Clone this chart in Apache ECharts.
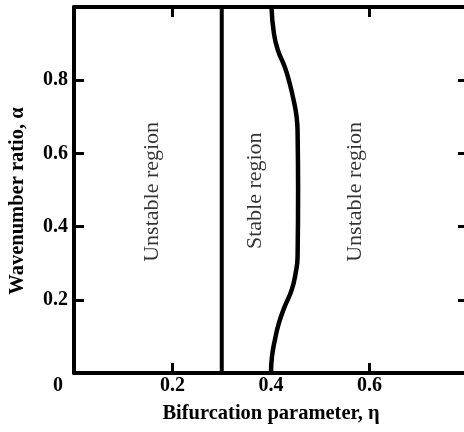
<!DOCTYPE html>
<html>
<head>
<meta charset="utf-8">
<script src="https://cdn.jsdelivr.net/npm/echarts@6/dist/echarts.min.js"></script>
<style>html,body{margin:0;padding:0;background:#fff}#c{width:464px;height:432px}</style>
</head>
<body>
<div id="c"></div>
<script>
// Data
const xTicks = [0, 0.2, 0.4, 0.6, 0.8];
const yTicks = [0, 0.2, 0.4, 0.6, 0.8, 1.0];
const verticalBoundaryEta = 0.3;
const verticalBoundaryAlpha = [0, 1];
const boundaryAlpha = [0.0, 0.045, 0.091, 0.136, 0.182, 0.227, 0.273, 0.318, 0.5, 0.655, 0.70, 0.745, 0.791, 0.836, 0.882, 0.927, 1.0];
const boundaryEta   = [0.400, 0.402, 0.408, 0.416, 0.428, 0.442, 0.450, 0.454, 0.455, 0.454, 0.452, 0.446, 0.438, 0.428, 0.414, 0.406, 0.401];
const regionNames = ['Unstable region', 'Stable region', 'Unstable region'];
const regionEta = [0.158, 0.367, 0.572];
const regionAlpha = [0.495, 0.498, 0.495];
const xTitle = 'Bifurcation parameter, η';
const yTitle = 'Wavenumber ratio, α';

const FONT = '"Liberation Serif", "DejaVu Serif", serif';
const chart = echarts.init(document.getElementById('c'), null, {renderer: 'canvas'});

const axisCommon = {
  type: 'value',
  interval: 0.2,
  splitLine: {show: false},
  axisLine: {show: true, onZero: false, lineStyle: {color: '#000', width: 4}},
  axisTick: {show: true, inside: true, length: 10, lineStyle: {color: '#000', width: 3}}
};

const option = {
  animation: false,
  backgroundColor: '#fff',
  grid: {left: 74, top: 7, width: 394, height: 366, containLabel: false, outerBoundsMode: 'none'},
  xAxis: [
    Object.assign({}, axisCommon, {
      position: 'bottom', min: xTicks[0], max: xTicks[xTicks.length - 1],
      name: xTitle, nameLocation: 'middle', nameGap: 30,
      nameTextStyle: {fontFamily: FONT, fontSize: 20.5, fontWeight: 'bold', color: '#000'},
      axisLabel: {
        show: true, margin: 3, color: '#000', fontFamily: FONT, fontSize: 20, fontWeight: 'bold',
        formatter: function (v) { if (v === 0) return '{o|0}'; if (Math.abs(v - 0.8) < 1e-9) return ''; return v.toFixed(1); },
        rich: {o: {fontFamily: FONT, fontSize: 20, fontWeight: 'bold', color: '#000', padding: [0, 32, 0, 0]}}
      }
    }),
    Object.assign({}, axisCommon, {
      position: 'top', min: xTicks[0], max: xTicks[xTicks.length - 1],
      axisLabel: {show: false}
    })
  ],
  yAxis: [
    Object.assign({}, axisCommon, {
      position: 'left', min: yTicks[0], max: yTicks[yTicks.length - 1],
      name: yTitle, nameLocation: 'middle', nameGap: 46, nameRotate: 90,
      nameTextStyle: {fontFamily: FONT, fontSize: 20.5, fontWeight: 'bold', color: '#000', padding: [0, 22, 0, 0]},
      axisLabel: {
        show: true, margin: 6, color: '#000', fontFamily: FONT, fontSize: 20, fontWeight: 'bold',
        formatter: function (v) { if (v === 0 || v >= 0.999) return ''; return v.toFixed(1); }
      }
    }),
    Object.assign({}, axisCommon, {
      position: 'right', min: yTicks[0], max: yTicks[yTicks.length - 1],
      axisLabel: {show: false}
    })
  ],
  series: [
    {
      type: 'line', xAxisIndex: 0, yAxisIndex: 0, symbol: 'none',
      lineStyle: {color: '#000', width: 4},
      data: verticalBoundaryAlpha.map(a => [verticalBoundaryEta, a])
    },
    {
      type: 'line', xAxisIndex: 0, yAxisIndex: 0, symbol: 'none', smooth: 0.5,
      lineStyle: {color: '#000', width: 4.5, join: 'round', cap: 'round'},
      data: boundaryAlpha.map((a, i) => [boundaryEta[i], a])
    },
    {
      type: 'scatter', xAxisIndex: 0, yAxisIndex: 0, symbolSize: 0, silent: true,
      label: {
        show: true, position: 'inside', rotate: 90, color: '#000',
        fontFamily: FONT, fontSize: 22,
        formatter: p => regionNames[p.dataIndex]
      },
      data: regionEta.map((e, i) => [e, regionAlpha[i]])
    }
  ]
};
chart.setOption(option);
</script>
</body>
</html>
